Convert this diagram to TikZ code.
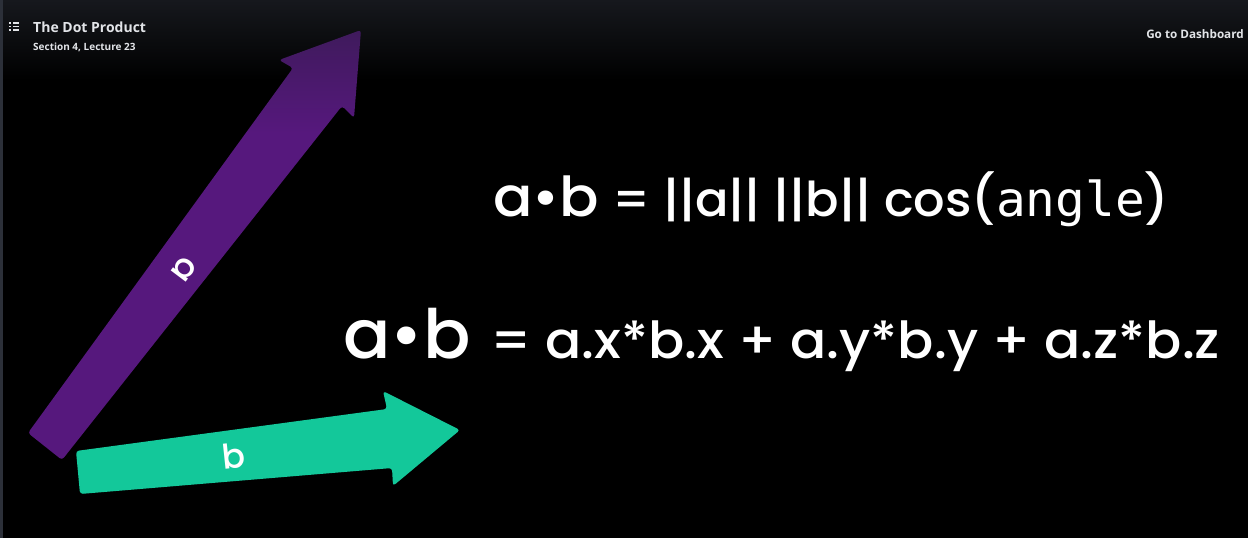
\documentclass[tikz,border=0pt]{standalone}
\usepackage{fontspec}
\setmainfont{Open Sans}
\newfontfamily\geofont{Poppins Medium}
\newfontfamily\codefont{DejaVu Sans Mono}
\usetikzlibrary{
    positioning, % Required for relative placement
    calc         % Required for coordinate calculations
}

\definecolor{vecPurple}{HTML}{56187D}
\definecolor{vecPurpleDark}{HTML}{3F1A5C}
\definecolor{vecGreen}{HTML}{13C89A}
\definecolor{barGray}{HTML}{16181D}
\definecolor{edgeGray}{HTML}{2C3039}
\definecolor{headText}{HTML}{E2E4E8}

% darker tip where the header band lies over the arrow
\pgfdeclareverticalshading{purplefade}{100bp}{color(0bp)=(vecPurple); color(63bp)=(vecPurple); color(75bp)=(vecPurpleDark); color(100bp)=(vecPurpleDark)}

\begin{document}
\begin{tikzpicture}[
        x=1pt, y=-1pt,
        % Styles
        header/.style={text=headText, inner sep=0pt, anchor=base west},
        formula/.style={text=white, inner sep=0pt, anchor=base west},
        vec label/.style={text=white, inner sep=0pt, font=\geofont\fontsize{34}{34}\selectfont},
        vec shape/.style={rounded corners=3pt}
    ]

    \useasboundingbox (0,0) rectangle (1248,538);

    % --- Background and header band ---
    \fill[black] (0,0) rectangle (1248,538);
    \shade[top color=barGray, bottom color=black] (0,0) rectangle (1248,80);
    \fill[edgeGray] (0,0) rectangle (3,538);

    % list icon
    \foreach \r in {23,26.5,30} {
        \fill[headText] (8.5,\r-0.9) rectangle (10.8,\r+0.9);
        \fill[headText] (12.8,\r-0.6) rectangle (19,\r+0.6);
    }

    \node[header, font=\bfseries\fontsize{14}{14}\selectfont] (lecTitle) at (33,32) {The Dot Product};
    \node[header, font=\bfseries\fontsize{10}{10}\selectfont] (lecSub) at (33,50) {Section 4, Lecture 23};
    \node[header, anchor=base east, font=\bfseries\fontsize{11.7}{11.7}\selectfont] (dashLink) at (1244,38) {Go to Dashboard};

    % --- Vector a ---
    \coordinate (aTailL) at (28,433);
    \coordinate (aTailR) at (62,460);
    \coordinate (aTip)   at (361,30);
    \shade[vec shape, shading=purplefade]
        (aTailL) -- (293,68) -- (279,60) -- (aTip) -- (354,118) -- (342,106) -- (aTailR) -- cycle;
    \node[vec label, rotate=233] (labA) at (184,269) {a};

    % --- Vector b ---
    \coordinate (bTailT) at (76,451);
    \coordinate (bTailB) at (80,494);
    \coordinate (bTip)   at (460,430);
    \fill[vec shape, vecGreen]
        (bTailT) -- (387,409) -- (383,391) -- (bTip) -- (393,486) -- (392,468) -- (bTailB) -- cycle;
    \node[vec label, rotate=6] (labB) at (234,456) {b};

    % --- Formulas ---
    \node[formula, xscale=1.06, font=\geofont\fontsize{55}{55}\selectfont] (dotOne) at (493,216) {a•b};
    \node[formula, xscale=1.03, font=\geofont\fontsize{48}{48}\selectfont] (magForm) at (612,216) {= ||a|| ||b|| cos({\codefont angle})};

    \node[formula, xscale=1.03, font=\geofont\fontsize{68}{68}\selectfont] (dotTwo) at (343,358) {a•b};
    \node[formula, xscale=1.05, font=\geofont\fontsize{51}{51}\selectfont] (compForm) at (490,358) {= a.x*b.x + a.y*b.y + a.z*b.z};

\end{tikzpicture}
\end{document}
